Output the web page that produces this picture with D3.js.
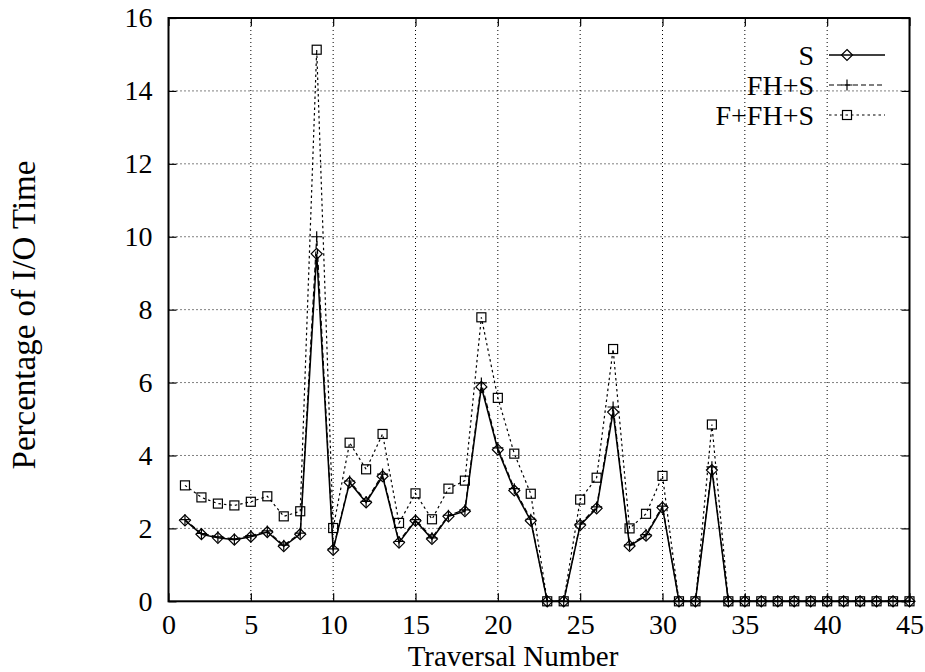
<!DOCTYPE html>
<html>
<head>
<meta charset="utf-8">
<script src="https://cdn.jsdelivr.net/npm/d3@7"></script>
<style>
  html, body { margin: 0; padding: 0; background: #fff; }
  svg { display: block; }
  text { font-family: "Liberation Serif", "Times New Roman", serif; fill: #000; }
</style>
</head>
<body>
<svg id="chart" width="925" height="672"></svg>
<script>
// Traversal numbers 1..45
const traversals = d3.range(1, 46);

// Percentage of I/O time per traversal, one array per configuration
const sValues = [2.22, 1.84, 1.74, 1.69, 1.77, 1.90, 1.51, 1.84, 9.53, 1.41,
                 3.26, 2.71, 3.43, 1.61, 2.21, 1.71, 2.33, 2.47, 5.88, 4.16,
                 3.04, 2.21, 0, 0, 2.09, 2.55, 5.19, 1.52, 1.80, 2.57,
                 0, 0, 3.60, 0, 0, 0, 0, 0, 0, 0,
                 0, 0, 0, 0, 0];
const fhsValues = [2.24, 1.86, 1.77, 1.71, 1.80, 1.93, 1.54, 1.87, 10.0, 1.44,
                   3.30, 2.74, 3.49, 1.64, 2.24, 1.74, 2.36, 2.51, 5.99, 4.21,
                   3.09, 2.25, 0, 0, 2.12, 2.59, 5.33, 1.55, 1.83, 2.61,
                   0, 0, 3.69, 0, 0, 0, 0, 0, 0, 0,
                   0, 0, 0, 0, 0];
const ffhsValues = [3.18, 2.85, 2.68, 2.63, 2.73, 2.88, 2.33, 2.47, 15.13, 2.01,
                    4.35, 3.62, 4.59, 2.15, 2.96, 2.25, 3.09, 3.31, 7.79, 5.58,
                    4.05, 2.95, 0, 0, 2.79, 3.39, 6.92, 2.00, 2.40, 3.44,
                    0, 0, 4.85, 0, 0, 0, 0, 0, 0, 0,
                    0, 0, 0, 0, 0];

const seriesNames = ["S", "FH+S", "F+FH+S"];
const xTicks = [0, 5, 10, 15, 20, 25, 30, 35, 40, 45];
const yTicks = [0, 2, 4, 6, 8, 10, 12, 14, 16];

const svg = d3.select("#chart");
const plotLeft = 168.5, plotRight = 909.5, plotTop = 18, plotBottom = 601.3;
const tickFont = 28, legendFont = 28, titleFont = 29, yTitleFont = 33;

const x = d3.scaleLinear().domain([0, 45]).range([plotLeft, plotRight]);
const y = d3.scaleLinear().domain([0, 16]).range([plotBottom, plotTop]);

// dotted grid
const grid = svg.append("g").attr("stroke", "#000").attr("stroke-width", 1)
  .attr("stroke-dasharray", "1,3").attr("fill", "none");
xTicks.filter(t => t > 0 && t < 45).forEach(t => {
  grid.append("line").attr("x1", x(t)).attr("x2", x(t)).attr("y1", plotTop).attr("y2", plotBottom);
});
yTicks.filter(t => t > 0 && t < 16).forEach(t => {
  grid.append("line").attr("x1", plotLeft).attr("x2", plotRight).attr("y1", y(t)).attr("y2", y(t));
});

// axes with inward ticks on all four sides
const tickLen = 8;
const axB = svg.append("g").attr("transform", `translate(0,${plotBottom})`)
  .call(d3.axisBottom(x).tickValues(xTicks).tickSizeInner(-tickLen).tickSizeOuter(0).tickPadding(13));
const axT = svg.append("g").attr("transform", `translate(0,${plotTop})`)
  .call(d3.axisTop(x).tickValues(xTicks).tickSizeInner(-tickLen).tickSizeOuter(0).tickFormat(""));
const axL = svg.append("g").attr("transform", `translate(${plotLeft},0)`)
  .call(d3.axisLeft(y).tickValues(yTicks).tickSizeInner(-tickLen).tickSizeOuter(0).tickPadding(tickLen + 8));
const axR = svg.append("g").attr("transform", `translate(${plotRight},0)`)
  .call(d3.axisRight(y).tickValues(yTicks).tickSizeInner(-tickLen).tickSizeOuter(0).tickFormat(""));
[axB, axT, axL, axR].forEach(a => {
  a.select(".domain").remove();
  a.selectAll(".tick line").attr("stroke", "#000").attr("stroke-width", 1.2);
  a.selectAll("text").style("font-family", "'Liberation Serif', serif")
    .style("font-size", tickFont + "px").attr("fill", "#000");
});
axB.selectAll("text").attr("dy", "0.71em");

// border
svg.append("rect").attr("x", plotLeft).attr("y", plotTop)
  .attr("width", plotRight - plotLeft).attr("height", plotBottom - plotTop)
  .attr("fill", "none").attr("stroke", "#000").attr("stroke-width", 2);

// axis titles
svg.append("text").attr("x", 513).attr("y", 666).attr("text-anchor", "middle")
  .style("font-size", titleFont + "px").text("Traversal Number");
svg.append("text").attr("transform", "translate(35,315) rotate(-90)")
  .attr("text-anchor", "middle").style("font-size", yTitleFont + "px").text("Percentage of I/O Time");

// marker shapes
function diamond(g, cx, cy) {
  const r = 5.5;
  g.append("path").attr("d", `M${cx},${cy - r}L${cx + r},${cy}L${cx},${cy + r}L${cx - r},${cy}Z`)
    .attr("fill", "none").attr("stroke", "#000").attr("stroke-width", 1.2);
}
function plus(g, cx, cy) {
  const r = 5.5;
  g.append("path").attr("d", `M${cx - r},${cy}H${cx + r}M${cx},${cy - r}V${cy + r}`)
    .attr("fill", "none").attr("stroke", "#000").attr("stroke-width", 1.2);
}
function square(g, cx, cy) {
  const r = 4.5;
  g.append("rect").attr("x", cx - r).attr("y", cy - r).attr("width", 2 * r).attr("height", 2 * r)
    .attr("fill", "none").attr("stroke", "#000").attr("stroke-width", 1.2);
}

const series = [
  { name: seriesNames[0], values: sValues, dash: null, width: 1.5, marker: diamond },
  { name: seriesNames[1], values: fhsValues, dash: "5,3", width: 1.2, marker: plus },
  { name: seriesNames[2], values: ffhsValues, dash: "2.5,3", width: 1.2, marker: square }
];

const line = d3.line().x((d, i) => x(traversals[i])).y(d => y(d));

// draw from last to first so the solid line sits on top
series.slice().reverse().forEach(s => {
  const g = svg.append("g");
  g.append("path").datum(s.values).attr("d", line)
    .attr("fill", "none").attr("stroke", "#000").attr("stroke-width", s.width)
    .attr("stroke-dasharray", s.dash);
  s.values.forEach((v, i) => s.marker(g, x(traversals[i]), y(v)));
});

// legend
const legendRows = [55, 85, 115];
series.forEach((s, i) => {
  const ly = legendRows[i];
  const g = svg.append("g");
  g.append("text").attr("x", 814).attr("y", ly).attr("dy", "0.35em").attr("text-anchor", "end")
    .style("font-size", legendFont + "px").text(s.name);
  g.append("line").attr("x1", 829).attr("x2", 885).attr("y1", ly).attr("y2", ly)
    .attr("stroke", "#000").attr("stroke-width", s.width).attr("stroke-dasharray", s.dash);
  s.marker(g, 847, ly);
});
</script>
</body>
</html>
